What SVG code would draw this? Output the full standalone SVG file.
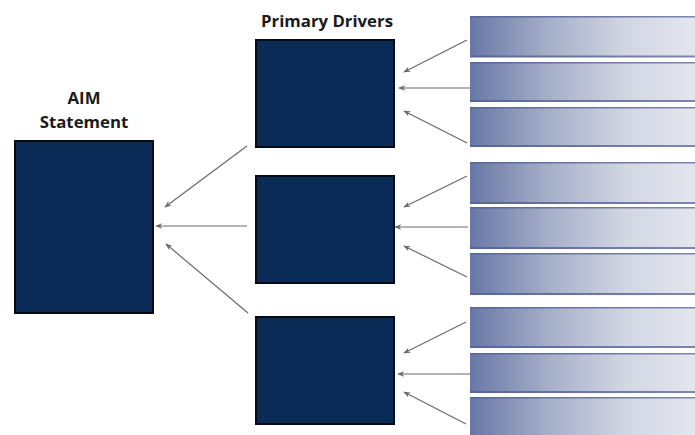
<svg xmlns="http://www.w3.org/2000/svg" width="695" height="435" viewBox="0 0 695 435">
<defs>
<linearGradient id="barG" x1="0" y1="0" x2="1" y2="0">
<stop offset="0" stop-color="#6877a6"/>
<stop offset="0.35" stop-color="#a6afc9"/>
<stop offset="0.7" stop-color="#d3d7e4"/>
<stop offset="1" stop-color="#e4e6ef"/>
</linearGradient>
<linearGradient id="edgeG" x1="0" y1="0" x2="1" y2="0">
<stop offset="0" stop-color="#56659a"/>
<stop offset="1" stop-color="#7d87ac"/>
</linearGradient>
<marker id="ah" viewBox="0 0 10 10" refX="9" refY="5" markerWidth="7" markerHeight="7" orient="auto" markerUnits="userSpaceOnUse">
<path d="M0,1 L10,5 L0,9 L3,5 Z" fill="#6a6a6a"/>
</marker>
<style>
.box{fill:#0b2b57;stroke:#050a14;stroke-width:2}
.bar{fill:url(#barG)}
.edge{fill:url(#edgeG)}
.lbl{font-family:"Open Sans","Liberation Sans",sans-serif;font-weight:bold;font-size:16.8px;fill:#1a1a1a;text-anchor:middle}
.arr{stroke:#6a6a6a;stroke-width:1.2;fill:none;marker-end:url(#ah)}
</style>
</defs>
<rect width="695" height="435" fill="#ffffff"/>
<g id="aim">
<text class="lbl" x="84" y="104">AIM</text>
<text class="lbl" x="84" y="128">Statement</text>
<rect class="box" x="15" y="141" width="138" height="172"/>
</g>
<g id="primary-drivers-label">
<text class="lbl" x="327" y="27">Primary Drivers</text>
</g>
<g id="driver1"><rect class="box" x="256" y="40" width="138" height="107"/></g>
<g id="driver2"><rect class="box" x="256" y="176" width="138" height="107"/></g>
<g id="driver3"><rect class="box" x="256" y="317" width="138" height="107"/></g>
<g id="secondary">
<g id="bar1"><rect class="bar" x="470" y="16" width="225" height="41"/><rect class="edge" x="470" y="16" width="225" height="1.5"/><rect class="edge" x="470" y="55.5" width="225" height="2"/></g>
<g id="bar2"><rect class="bar" x="470" y="62" width="225" height="40"/><rect class="edge" x="470" y="62" width="225" height="1.5"/><rect class="edge" x="470" y="100" width="225" height="2"/></g>
<g id="bar3"><rect class="bar" x="470" y="107" width="225" height="40"/><rect class="edge" x="470" y="107" width="225" height="1.5"/><rect class="edge" x="470" y="145" width="225" height="2"/></g>
<g id="bar4"><rect class="bar" x="470" y="162" width="225" height="42"/><rect class="edge" x="470" y="162" width="225" height="1.5"/><rect class="edge" x="470" y="202" width="225" height="2"/></g>
<g id="bar5"><rect class="bar" x="470" y="207" width="225" height="42"/><rect class="edge" x="470" y="207" width="225" height="1.5"/><rect class="edge" x="470" y="247" width="225" height="2"/></g>
<g id="bar6"><rect class="bar" x="470" y="253" width="225" height="42"/><rect class="edge" x="470" y="253" width="225" height="1.5"/><rect class="edge" x="470" y="293" width="225" height="2"/></g>
<g id="bar7"><rect class="bar" x="470" y="307" width="225" height="41"/><rect class="edge" x="470" y="307" width="225" height="1.5"/><rect class="edge" x="470" y="346" width="225" height="2"/></g>
<g id="bar8"><rect class="bar" x="470" y="353" width="225" height="40"/><rect class="edge" x="470" y="353" width="225" height="1.5"/><rect class="edge" x="470" y="391" width="225" height="2"/></g>
<g id="bar9"><rect class="bar" x="470" y="397" width="225" height="38"/><rect class="edge" x="470" y="397" width="225" height="1.5"/></g>
</g>
<g id="connectors">
<line class="arr" x1="467" y1="40" x2="404" y2="72"/>
<line class="arr" x1="470" y1="88" x2="399" y2="88"/>
<line class="arr" x1="467" y1="143" x2="404" y2="111"/>
<line class="arr" x1="467" y1="176" x2="404" y2="207"/>
<line class="arr" x1="468" y1="227" x2="395" y2="227"/>
<line class="arr" x1="467" y1="277" x2="404" y2="246"/>
<line class="arr" x1="466" y1="322" x2="404" y2="353"/>
<line class="arr" x1="470" y1="374" x2="398" y2="374"/>
<line class="arr" x1="466" y1="424" x2="404" y2="392"/>
<line class="arr" x1="247" y1="146" x2="165" y2="207"/>
<line class="arr" x1="247" y1="226" x2="156" y2="226"/>
<line class="arr" x1="248" y1="313" x2="166" y2="244"/>
</g>
</svg>
